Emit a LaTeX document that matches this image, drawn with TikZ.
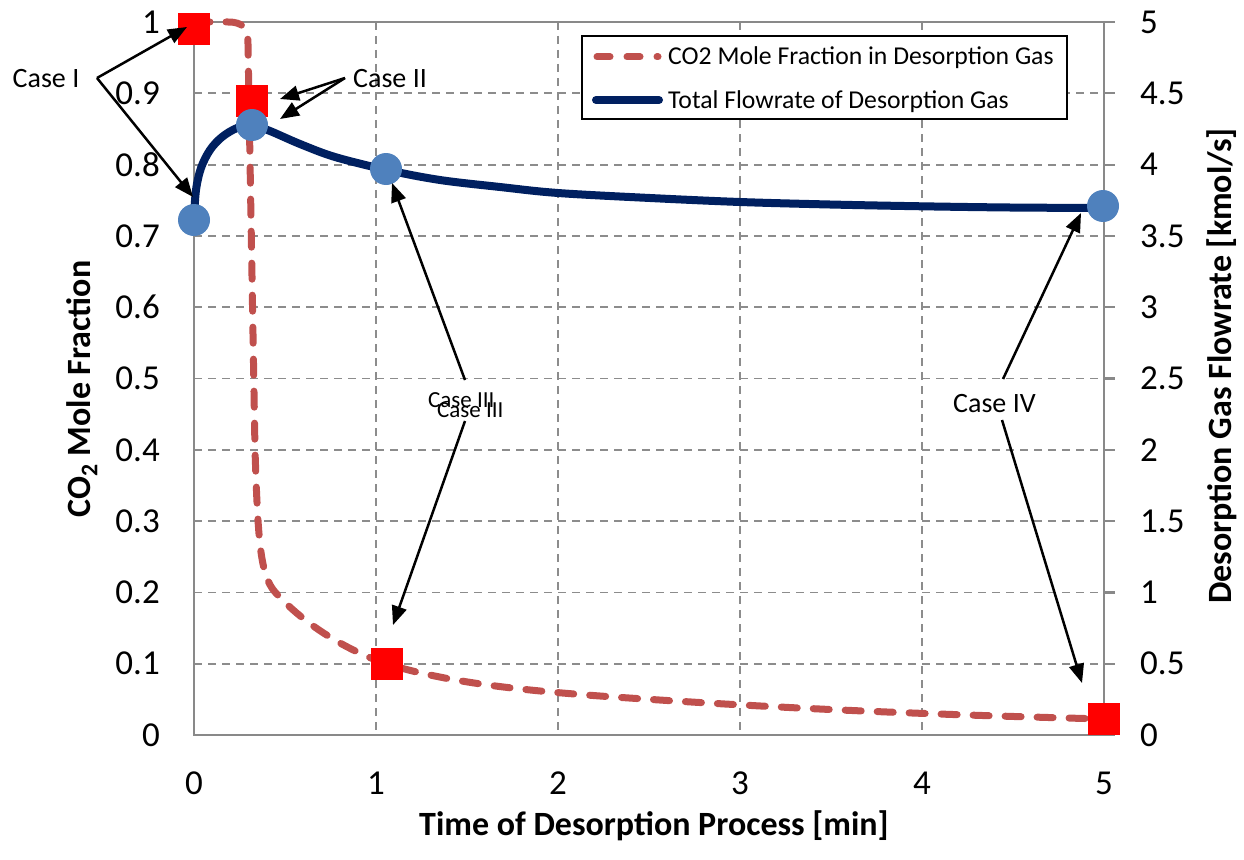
\documentclass[tikz,border=0pt]{standalone}
\usepackage{fontspec}
\setmainfont{Carlito}
\usetikzlibrary{arrows.meta}
\definecolor{gridgray}{HTML}{8C8C8C}
\definecolor{axisgray}{HTML}{898989}
\definecolor{coline}{HTML}{C0504D}
\definecolor{flowline}{HTML}{002060}
\definecolor{flowmark}{HTML}{4F81BD}
\definecolor{comark}{HTML}{FF0000}
\begin{document}
\begin{tikzpicture}[x=1pt,y=-1pt,
  gridline/.style={gridgray, line width=1.8pt, dash pattern=on 8pt off 6pt},
  axisline/.style={axisgray, line width=2.2pt},
  ticklabel/.style={font=\fontsize{35}{40}\selectfont, inner sep=0pt},
  axistitle/.style={font=\fontsize{34}{40}\selectfont\bfseries, inner sep=0pt},
  coseries/.style={coline, line width=7pt, line cap=round, dash pattern=on 16pt off 16pt},
  flowseries/.style={flowline, line width=8pt},
  comarker/.style={fill=comark, minimum size=32pt, inner sep=0pt},
  flowmarker/.style={circle, fill=flowmark, minimum size=32pt, inner sep=0pt},
  casearrow/.style={-{Triangle[length=19pt,width=15pt]}, line width=2.5pt, black},
  caselabel/.style={font=\fontsize{28}{32}\selectfont, inner sep=0pt},
  smallcase/.style={font=\fontsize{23}{26}\selectfont, inner sep=0pt},
  legendtext/.style={font=\fontsize{25.7}{30}\selectfont, inner sep=0pt, anchor=base west},
]
\useasboundingbox (0,0) rectangle (1244,859);

% grid
\foreach \i in {1,...,9}
  \draw[gridline] (194,{735-71.3*\i}) -- (1104,{735-71.3*\i});
\foreach \i in {1,...,4}
  \draw[gridline] ({194+182*\i},22) -- ({194+182*\i},735);

% axes frame and right-hand ticks
\draw[axisline] (194,22) -- (1104,22);
\draw[axisline] (194,22) -- (194,735) -- (1104,735) -- (1104,22);
\foreach \i in {0,...,10}
  \draw[axisline] (1104,{735-71.3*\i}) -- (1115,{735-71.3*\i});

% tick labels
\node[ticklabel, anchor=east] (yl0) at (160,735) {0};
\foreach \i in {1,...,9}
  \node[ticklabel, anchor=east] (yl\i) at (160,{735-71.3*\i}) {0.\i};
\node[ticklabel, anchor=east] (yl10) at (160,22) {1};
\foreach \v/\t [count=\k from 0] in {0/0,1/0.5,2/1,3/1.5,4/2,5/2.5,6/3,7/3.5,8/4,9/4.5,10/5}
  \node[ticklabel, anchor=west] (yr\k) at (1140,{735-71.3*\v}) {\t};
\foreach \i in {0,...,5}
  \node[ticklabel] (xl\i) at ({194+182*\i},783) {\i};

% axis titles
\node[axistitle, rotate=90] (ytitle) at (82,389) {CO\textsubscript{2} Mole Fraction};
\node[axistitle, rotate=90] (y2title) at (1222,366) {Desorption Gas Flowrate [kmol/s]};
\node[axistitle, anchor=base] (xtitle) at (654,835) {Time of Desorption Process [min]};

% CO2 mole fraction
\draw[coseries] (194,22) -- (228,22) .. controls (243,22) and (248,28) .. (248,44)
  -- (255,450) .. controls (258,540) and (260,575) .. (275,592)
  .. controls (300,620) and (340,648) .. (387,664)
  .. controls (450,683) and (520,690) .. (600,696)
  .. controls (800,710) and (950,715) .. (1104,719);
\node[comarker] (sq1) at (194,29) {};
\node[comarker] (sq2) at (252,101) {};
\node[comarker] (sq3) at (387,664) {};
\node[comarker] (sq4) at (1104,719) {};

% total flowrate
\draw[flowseries] plot[smooth, tension=0.55] coordinates {
  (194,218) (196,190) (201,168) (210,150) (222,137) (237,128) (252,125)
  (270,131) (300,144) (335,157) (387,170) (440,180) (500,187) (558,193)
  (650,198) (740,202) (830,204.5) (922,206.3) (1010,207.5) (1103,208)};
\node[flowmarker] (ci1) at (194,220) {};
\node[flowmarker] (ci2) at (252,125) {};
\node[flowmarker] (ci3) at (386,169) {};
\node[flowmarker] (ci4) at (1103,206) {};

% legend
\node[draw=black, line width=1.8pt, fill=white, minimum width=485pt, minimum height=83pt, inner sep=0pt] (legend) at (824.5,77.5) {};
\draw[coline, line width=7pt, line cap=round, dash pattern=on 13pt off 17pt] (597,57) -- (658,57);
\draw[flowline, line width=8pt, line cap=round] (596,100) -- (659,100);
\node[legendtext] (leg1) at (668,65) {CO2 Mole Fraction in Desorption Gas};
\node[legendtext] (leg2) at (668,108) {Total Flowrate of Desorption Gas};

% case annotations
\node[caselabel, anchor=base] (case1) at (46,88) {Case I};
\coordinate (c1s) at (97,78);
\coordinate (c1a) at (187,27);
\coordinate (c1b) at (193,197);
\draw[casearrow] (c1s) -- (c1a);
\draw[casearrow] (c1s) -- (c1b);

\node[caselabel, anchor=base west] (case2) at (353,87) {Case II};
\coordinate (c2s) at (345,78);
\coordinate (c2a) at (280,99);
\coordinate (c2b) at (280,119);
\draw[casearrow] (c2s) -- (c2a);
\draw[casearrow] (c2s) -- (c2b);

\node[smallcase, anchor=base west] (case3a) at (428,407) {Case III};
\node[smallcase, anchor=base west] (case3b) at (437,417) {Case III};
\coordinate (c3s) at (465,380);
\coordinate (c3a) at (392,183);
\coordinate (c3t) at (465,421);
\coordinate (c3b) at (393,625);
\draw[casearrow] (c3s) -- (c3a);
\draw[casearrow] (c3t) -- (c3b);

\node[caselabel, anchor=base west] (case4) at (953,412) {Case IV};
\coordinate (c4s) at (1003,379);
\coordinate (c4a) at (1081,213);
\coordinate (c4t) at (1002,420);
\coordinate (c4b) at (1082,683);
\draw[casearrow] (c4s) -- (c4a);
\draw[casearrow] (c4t) -- (c4b);
\end{tikzpicture}
\end{document}
